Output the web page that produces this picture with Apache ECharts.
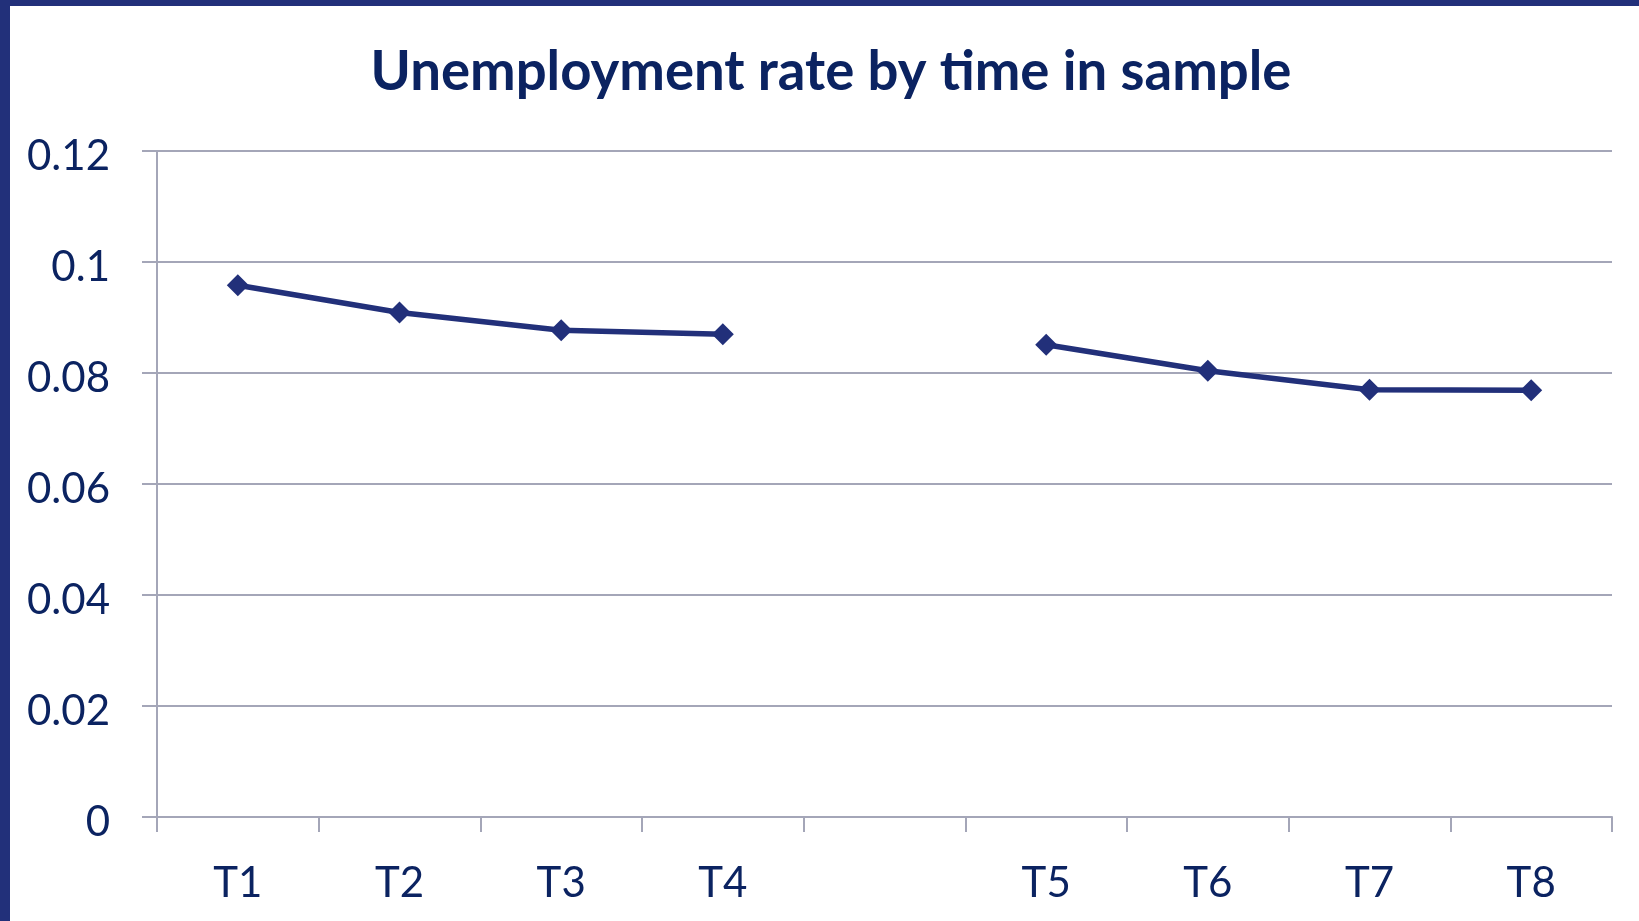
<!DOCTYPE html>
<html>
<head>
<meta charset="utf-8">
<title>Unemployment rate by time in sample</title>
<script src="https://cdn.jsdelivr.net/npm/echarts@6/dist/echarts.min.js"></script>
<style>
  html, body { margin: 0; padding: 0; background: #ffffff; }
  #chart { position: absolute; left: 0; top: 0; width: 1639px; height: 921px; }
  .edge { position: absolute; background: #22307a; z-index: 2; }
  #edge-left { left: 0; top: 0; width: 10px; height: 921px; }
  #edge-top { left: 0; top: 0; width: 1639px; height: 6px; }
</style>
</head>
<body>
<div id="chart"></div>
<div class="edge" id="edge-left"></div>
<div class="edge" id="edge-top"></div>
<script>
// Survey waves; the blank slot separates the two groups of four.
const categories = ['T1', 'T2', 'T3', 'T4', '', 'T5', 'T6', 'T7', 'T8'];
// Unemployment rate per wave (null leaves the gap between the groups).
const unemploymentRate = [0.0958, 0.0909, 0.0877, 0.0870, null, 0.0851, 0.0804, 0.0770, 0.0769];
// Value axis range and step.
const yMin = 0;
const yMax = 0.12;
const yStep = 0.02;

const textColor = '#0b2361';
const lineColor = '#22307a';
const gridColor = '#a4a6b8';
const fontFamily = 'Lato, "Open Sans", sans-serif';

const chart = echarts.init(document.getElementById('chart'), null, { renderer: 'canvas' });
chart.setOption({
  animation: false,
  backgroundColor: '#ffffff',
  title: {
    text: 'Unemployment rate by time in sample',
    left: 826,
    textAlign: 'center',
    top: 40,
    textStyle: {
      color: textColor,
      fontFamily: fontFamily,
      fontWeight: 'bold',
      fontSize: 54.5
    }
  },
  grid: {
    left: 157,
    right: 27,
    top: 151,
    bottom: 104,
    containLabel: false
  },
  xAxis: {
    type: 'category',
    data: categories,
    boundaryGap: true,
    axisLine: { show: true, lineStyle: { color: gridColor, width: 2 } },
    axisTick: { show: true, length: 15, alignWithLabel: false, interval: 0, lineStyle: { color: gridColor, width: 2 } },
    axisLabel: {
      interval: 0,
      margin: 45,
      color: textColor,
      fontFamily: fontFamily,
      fontSize: 42
    },
    splitLine: { show: false }
  },
  yAxis: {
    type: 'value',
    min: yMin,
    max: yMax,
    interval: yStep,
    axisLine: { show: true, lineStyle: { color: gridColor, width: 2 } },
    axisTick: { show: true, length: 15, lineStyle: { color: gridColor, width: 2 } },
    axisLabel: {
      margin: 47,
      color: textColor,
      fontFamily: fontFamily,
      fontSize: 42,
      formatter: (v) => '{v|' + parseFloat(v.toFixed(2)) + '}',
      rich: {
        v: {
          color: textColor,
          fontFamily: fontFamily,
          fontSize: 42,
          padding: [10, 0, 0, 0]
        }
      }
    },
    splitLine: { show: true, lineStyle: { color: gridColor, width: 2 } }
  },
  series: [{
    type: 'line',
    data: unemploymentRate,
    connectNulls: false,
    symbol: 'diamond',
    symbolSize: 22,
    showAllSymbol: true,
    lineStyle: { color: lineColor, width: 5.5 },
    itemStyle: { color: lineColor, borderWidth: 0 }
  }]
});
</script>
</body>
</html>
